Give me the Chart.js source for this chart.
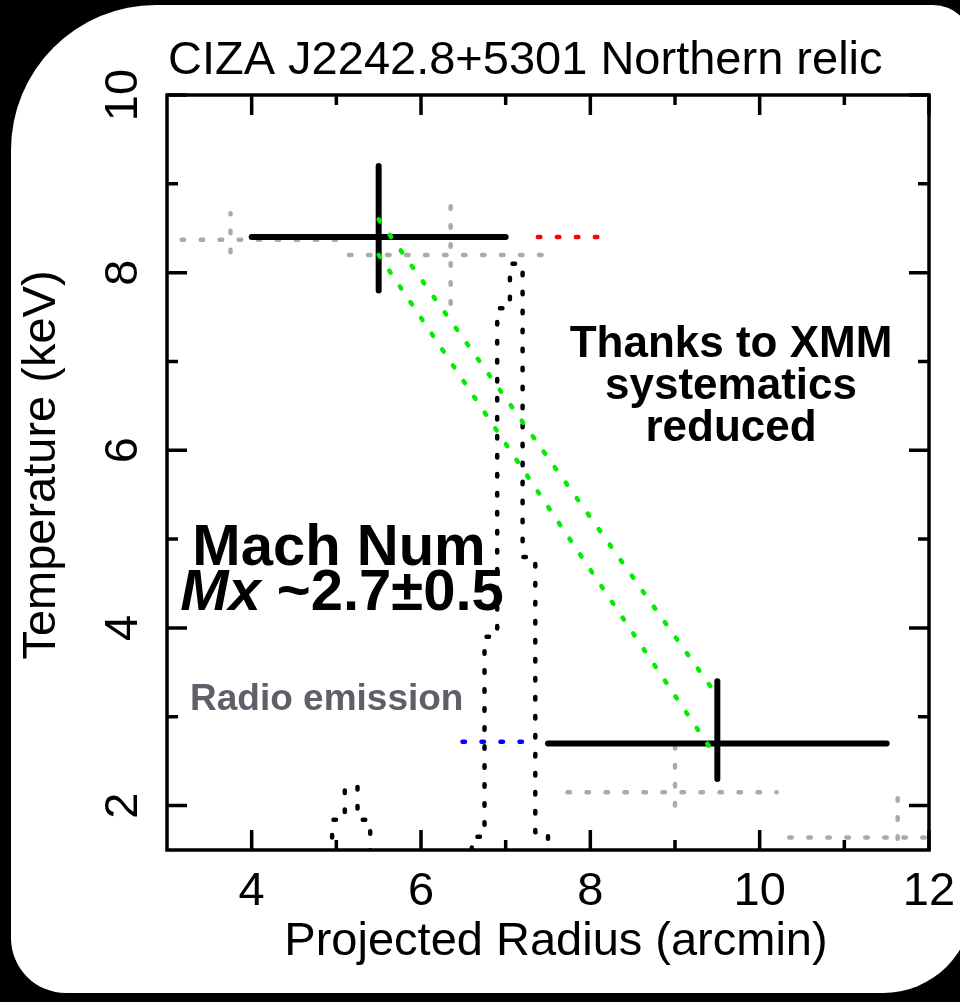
<!DOCTYPE html>
<html>
<head>
<meta charset="utf-8">
<script src="https://cdn.jsdelivr.net/npm/chart.js@4.4.0/dist/chart.umd.min.js"></script>
<style>
html, body { margin: 0; padding: 0; background: #000; }
canvas { display: block; }
</style>
</head>
<body>
<canvas id="chart" width="960" height="1002"></canvas>
<script>
// axis ticks
var xMajor = [4, 6, 8, 10, 12]
var xMinor = [5, 7, 9, 11]
var yMajor = [2, 4, 6, 8, 10]
var yMinor = [3, 5, 7, 9]

// XMM temperatures (arcmin, keV)
var obsR = [5.5, 9.5]
var obsRLo = [4.0, 7.5]
var obsRHi = [7.0, 11.5]
var obsT = [8.4, 2.7]
var obsTLo = [7.8, 2.3]
var obsTHi = [9.2, 3.4]

// earlier measurements, grey
var oldR = [3.75, 6.35, 9.0, 11.63]
var oldRLo = [2.5, 5.15, 7.73, 10.35]
var oldRHi = [5.0, 7.6, 10.2, 12.9]
var oldT = [8.37, 8.2, 2.15, 1.64]
var oldTLo = [8.23, 7.65, 2.0, 1.2]
var oldTHi = [8.67, 8.9, 2.65, 2.1]

// jump lines between the two XMM points
var jumpR = [5.5, 9.45]
var jumpHi = [8.6, 3.3]
var jumpLo = [8.2, 2.6]

// short pre/post shock markers
var redR = [7.38, 8.1]
var redT = 8.4
var blueR = [6.49, 7.35]
var blueT = 2.72

// radio brightness profile (bin left edge, level)
var radioLeft = [4.95, 5.1, 5.25, 6.6, 6.75, 6.9, 7.05, 7.2, 7.35]
var radioLevel = [1.84, 2.21, 1.84, 1.65, 3.9, 7.6, 8.1, 4.8, 1.7]
var radioBin = 0.15
var radioFloor = 1.0

function seg(x0, y0, x1, y1) {
    return [{ x: x0, y: y0 }, { x: x1, y: y1 }]
}

// step outline, dropping to the floor between separate groups of bins
function radioOutline() {
    var pts = []
    for (var i = 0; i < radioLeft.length; i++) {
        var x0 = radioLeft[i]
        var x1 = x0 + radioBin
        var joined = i > 0 && Math.abs(radioLeft[i - 1] + radioBin - x0) < 1e-6
        if (!joined) {
            if (i > 0) {
                var px = radioLeft[i - 1] + radioBin
                pts.push({ x: px, y: radioFloor })
            }
            pts.push({ x: x0, y: radioFloor })
        }
        pts.push({ x: x0, y: radioLevel[i] })
        pts.push({ x: x1, y: radioLevel[i] })
    }
    pts.push({ x: radioLeft[radioLeft.length - 1] + radioBin, y: radioFloor })
    return pts
}

var dots = { borderDash: [2.5, 16.5], borderWidth: 4.5, borderCapStyle: 'round' }

function dotted(data, color, order) {
    return Object.assign({ data: data, borderColor: color, showLine: true, pointRadius: 0, order: order, borderJoinStyle: 'round' }, dots)
}

var datasets = []
oldR.forEach(function (r, i) {
    datasets.push(dotted(seg(oldRLo[i], oldT[i], oldRHi[i], oldT[i]), '#aaaaaa', 6))
    datasets.push(dotted(seg(r, oldTLo[i], r, oldTHi[i]), '#aaaaaa', 6))
})
datasets.push(dotted(radioOutline(), '#000000', 5))
obsR.forEach(function (r, i) {
    var style = { borderColor: '#000', borderWidth: 6, borderCapStyle: 'round', showLine: true, pointRadius: 0, order: 4 }
    datasets.push(Object.assign({ data: seg(obsRLo[i], obsT[i], obsRHi[i], obsT[i]) }, style))
    datasets.push(Object.assign({ data: seg(r, obsTLo[i], r, obsTHi[i]) }, style))
})
datasets.push(dotted(seg(redR[0], redT, redR[1], redT), '#ff0000', 3))
datasets.push(dotted(seg(blueR[0], blueT, blueR[1], blueT), '#0000ff', 3))
datasets.push(dotted(seg(jumpR[0], jumpHi[0], jumpR[1], jumpHi[1]), '#00ee00', 2))
datasets.push(dotted(seg(jumpR[0], jumpLo[0], jumpR[1], jumpLo[1]), '#00ee00', 2))

var sans = "'Liberation Sans', Arial, Helvetica, sans-serif"

var decor = {
    id: 'decor',
    beforeDraw: function (chart) {
        var ctx = chart.ctx
        ctx.save()
        ctx.fillStyle = '#000'
        ctx.fillRect(0, 0, chart.width, chart.height)
        ctx.fillStyle = '#fff'
        ctx.beginPath()
        ctx.roundRect(11, 5, 962, 988, [145, 40, 90, 55])
        ctx.fill()
        ctx.restore()
    },
    afterDatasetsDraw: function (chart) {
        var ctx = chart.ctx
        var a = chart.chartArea
        var xs = chart.scales.x
        var ys = chart.scales.y
        ctx.save()
        ctx.strokeStyle = '#000'
        ctx.lineWidth = 3.5
        ctx.lineCap = 'butt'
        ctx.strokeRect(a.left, a.top, a.right - a.left, a.bottom - a.top)

        // inward ticks on all four sides
        function xTick(v, len) {
            var p = xs.getPixelForValue(v)
            ctx.beginPath()
            ctx.moveTo(p, a.bottom); ctx.lineTo(p, a.bottom - len)
            ctx.moveTo(p, a.top); ctx.lineTo(p, a.top + len)
            ctx.stroke()
        }
        function yTick(v, len) {
            var p = ys.getPixelForValue(v)
            ctx.beginPath()
            ctx.moveTo(a.left, p); ctx.lineTo(a.left + len, p)
            ctx.moveTo(a.right, p); ctx.lineTo(a.right - len, p)
            ctx.stroke()
        }
        xMajor.forEach(function (v) { xTick(v, 20) })
        xMinor.forEach(function (v) { xTick(v, 10) })
        yMajor.forEach(function (v) { yTick(v, 20) })
        yMinor.forEach(function (v) { yTick(v, 11) })

        ctx.fillStyle = '#000'
        ctx.font = '47px ' + sans
        ctx.textAlign = 'center'
        ctx.textBaseline = 'alphabetic'
        xMajor.forEach(function (v) {
            ctx.fillText(String(v), xs.getPixelForValue(v), 905)
        })
        yMajor.forEach(function (v) {
            ctx.save()
            ctx.translate(137, ys.getPixelForValue(v))
            ctx.rotate(-Math.PI / 2)
            ctx.fillText(String(v), 0, 0)
            ctx.restore()
        })

        // axis titles and heading
        ctx.fillText('Projected Radius (arcmin)', 556, 955)
        ctx.save()
        ctx.translate(55, 465)
        ctx.rotate(-Math.PI / 2)
        ctx.fillText('Temperature (keV)', 0, 0)
        ctx.restore()
        ctx.textAlign = 'left'
        ctx.fillText('CIZA J2242.8+5301 Northern relic', 168, 74)

        // annotations
        ctx.textAlign = 'center'
        ctx.font = 'bold 44px ' + sans
        ctx.fillText('Thanks to XMM', 731, 357)
        ctx.fillText('systematics', 731, 399)
        ctx.fillText('reduced', 731, 441)

        ctx.font = 'bold 58px ' + sans
        ctx.fillText('Mach Num', 339, 565)
        var part1 = 'Mx'
        var part2 = ' ~2.7\u00b10.5'
        ctx.font = 'italic bold 58px ' + sans
        var w1 = ctx.measureText(part1).width
        ctx.font = 'bold 58px ' + sans
        var w2 = ctx.measureText(part2).width
        var x0 = 342 - (w1 + w2) / 2
        ctx.textAlign = 'left'
        ctx.font = 'italic bold 58px ' + sans
        ctx.fillText(part1, x0, 610)
        ctx.font = 'bold 58px ' + sans
        ctx.fillText(part2, x0 + w1, 610)

        ctx.fillStyle = '#5d6068'
        ctx.font = 'bold 37px ' + sans
        ctx.fillText('Radio emission', 190, 710)
        ctx.restore()
    }
}

new Chart(document.getElementById('chart').getContext('2d'), {
    type: 'scatter',
    data: { datasets: datasets },
    options: {
        responsive: false,
        animation: false,
        events: [],
        layout: { padding: { left: 167, top: 95, right: 31, bottom: 152 } },
        scales: {
            x: { type: 'linear', min: 3, max: 12, display: false },
            y: { type: 'linear', min: 1.5, max: 10, display: false }
        },
        plugins: { legend: { display: false }, tooltip: { enabled: false } }
    },
    plugins: [decor]
})
</script>
</body>
</html>
